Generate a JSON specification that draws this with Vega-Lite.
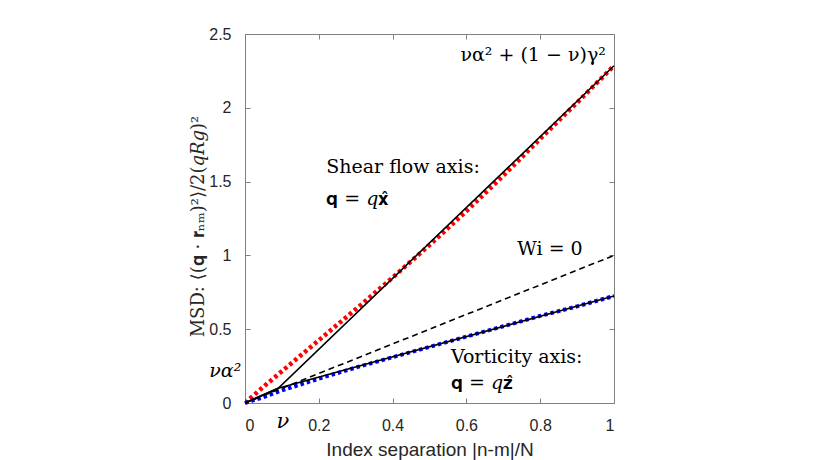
{
  "$schema": "https://vega.github.io/schema/vega-lite/v6.json",
  "autosize": "none",
  "width": 369,
  "height": 369,
  "padding": {"left": 245, "top": 34, "right": 216, "bottom": 57},
  "background": "white",
  "config": {
    "view": {"stroke": null},
    "axis": {"grid": false, "domainColor": "#808080", "tickColor": "#808080", "labelColor": "#262626", "labelFont": "Liberation Sans", "labelFontSize": 16, "titleFont": "Liberation Sans", "titleColor": "#262626", "titleFontWeight": "normal"}
  },
  "resolve": {"axis": {"x": "independent", "y": "independent"}},
  "datasets": {
    "curves": [
      {"x": 0, "y": 0, "series": "shear"},
      {"x": 0.05, "y": 0.11, "series": "shear"},
      {"x": 0.1, "y": 0.215, "series": "shear"},
      {"x": 0.15, "y": 0.32, "series": "shear"},
      {"x": 0.2, "y": 0.425, "series": "shear"},
      {"x": 0.3, "y": 0.635, "series": "shear"},
      {"x": 0.4, "y": 0.85, "series": "shear"},
      {"x": 0.5, "y": 1.07, "series": "shear"},
      {"x": 0.6, "y": 1.3, "series": "shear"},
      {"x": 0.7, "y": 1.54, "series": "shear"},
      {"x": 0.8, "y": 1.79, "series": "shear"},
      {"x": 0.9, "y": 2.035, "series": "shear"},
      {"x": 1, "y": 2.285, "series": "shear"},
      {"x": 0, "y": 0, "series": "vort"},
      {"x": 0.05, "y": 0.04, "series": "vort"},
      {"x": 0.1, "y": 0.085, "series": "vort"},
      {"x": 0.2, "y": 0.165, "series": "vort"},
      {"x": 0.3, "y": 0.24, "series": "vort"},
      {"x": 0.4, "y": 0.31, "series": "vort"},
      {"x": 0.5, "y": 0.38, "series": "vort"},
      {"x": 0.6, "y": 0.45, "series": "vort"},
      {"x": 0.7, "y": 0.52, "series": "vort"},
      {"x": 0.8, "y": 0.59, "series": "vort"},
      {"x": 0.9, "y": 0.655, "series": "vort"},
      {"x": 1, "y": 0.725, "series": "vort"},
      {"x": 0, "y": 0, "series": "wi0"},
      {"x": 1, "y": 1, "series": "wi0"},
      {"x": 0, "y": 0, "series": "upper"},
      {"x": 0.09, "y": 0.1, "series": "upper"},
      {"x": 1, "y": 2.285, "series": "upper"},
      {"x": 0, "y": 0, "series": "lower"},
      {"x": 0.09, "y": 0.1, "series": "lower"},
      {"x": 1, "y": 0.725, "series": "lower"}
    ]
  },
  "layer": [
    {
      "data": {"name": "curves"},
      "transform": [{"filter": "datum.series === 'shear'"}],
      "mark": {"type": "line", "color": "#ff0000", "strokeWidth": 4.5, "strokeDash": [3.5, 3], "clip": true},
      "encoding": {
        "x": {"field": "x", "type": "quantitative", "scale": {"domain": [0, 1], "nice": false},
          "axis": {"values": [0, 0.2, 0.4, 0.6, 0.8, 1], "format": "~g", "tickSize": -5, "labelPadding": 19, "title": "Index separation |n-m|/N", "titleFontSize": 19, "titlePadding": 7}},
        "y": {"field": "y", "type": "quantitative", "scale": {"domain": [0, 2.5], "nice": false},
          "axis": {"values": [0, 0.5, 1, 1.5, 2, 2.5], "format": "~g", "tickSize": -5, "labelPadding": 19, "title": "MSD: ⟨(𝐪 · 𝐫ₙₘ)²⟩/2(𝑞𝑅𝑔)²", "titleFont": "DejaVu Serif", "titleFontSize": 18, "titleX": -42, "titleY": 192, "titleBaseline": "alphabetic"}}
      }
    },
    {
      "data": {"name": "curves"},
      "transform": [{"filter": "datum.series === 'vort'"}],
      "mark": {"type": "line", "color": "#0000ff", "strokeWidth": 4, "strokeDash": [3.5, 3]},
      "encoding": {"x": {"field": "x", "type": "quantitative", "axis": null}, "y": {"field": "y", "type": "quantitative", "axis": null}}
    },
    {
      "data": {"name": "curves"},
      "transform": [{"filter": "datum.series === 'wi0'"}],
      "mark": {"type": "line", "color": "black", "strokeWidth": 1.6, "strokeDash": [6, 4]},
      "encoding": {"x": {"field": "x", "type": "quantitative", "axis": null}, "y": {"field": "y", "type": "quantitative", "axis": null}}
    },
    {
      "data": {"name": "curves"},
      "transform": [{"filter": "datum.series === 'upper' || datum.series === 'lower'"}],
      "mark": {"type": "line", "color": "black", "strokeWidth": 1.6},
      "encoding": {"x": {"field": "x", "type": "quantitative", "axis": null}, "y": {"field": "y", "type": "quantitative", "axis": null}, "detail": {"field": "series"}}
    },
    {
      "data": {"values": [{"x": 0, "y": 0}]},
      "mark": {"type": "point", "opacity": 0},
      "encoding": {
        "x": {"field": "x", "type": "quantitative", "axis": {"orient": "top", "values": [0, 0.2, 0.4, 0.6, 0.8, 1], "labels": false, "tickSize": -5, "title": null}},
        "y": {"field": "y", "type": "quantitative", "axis": {"orient": "right", "values": [0, 0.5, 1, 1.5, 2, 2.5], "labels": false, "tickSize": -5, "title": null}}
      }
    },
    {
      "data": {"values": [{"x": 0.978, "y": 2.36, "t": "να² + (1 − ν)γ²"}]},
      "mark": {"type": "text", "font": "DejaVu Serif", "fontSize": 19, "align": "right", "baseline": "middle", "color": "black"},
      "encoding": {"x": {"field": "x", "type": "quantitative", "axis": null}, "y": {"field": "y", "type": "quantitative", "axis": null}, "text": {"field": "t"}}
    },
    {
      "data": {"values": [{"x": 0.22, "y": 1.6, "t": "Shear flow axis:"}, {"x": 0.558, "y": 0.314, "t": "Vorticity axis:"}, {"x": 0.738, "y": 1.045, "t": "Wi = 0"}]},
      "mark": {"type": "text", "font": "DejaVu Serif", "fontSize": 19, "align": "left", "baseline": "middle", "color": "black"},
      "encoding": {"x": {"field": "x", "type": "quantitative", "axis": null}, "y": {"field": "y", "type": "quantitative", "axis": null}, "text": {"field": "t"}}
    },
    {
      "data": {"values": [{"x": 0.22, "y": 1.38, "t": "𝐪 = 𝑞𝐱̂"}, {"x": 0.558, "y": 0.138, "t": "𝐪 = 𝑞𝐳̂"}]},
      "mark": {"type": "text", "font": "DejaVu Serif", "fontSize": 19, "align": "left", "baseline": "middle", "color": "black"},
      "encoding": {"x": {"field": "x", "type": "quantitative", "axis": null}, "y": {"field": "y", "type": "quantitative", "axis": null}, "text": {"field": "t"}}
    },
    {
      "data": {"values": [{"x": -0.01, "y": 0.22, "t": "να²"}]},
      "mark": {"type": "text", "font": "DejaVu Serif", "fontSize": 19, "fontStyle": "italic", "align": "right", "baseline": "middle", "color": "black"},
      "encoding": {"x": {"field": "x", "type": "quantitative", "axis": null}, "y": {"field": "y", "type": "quantitative", "axis": null}, "text": {"field": "t"}}
    },
    {
      "data": {"values": [{"x": 0.103, "y": -0.13, "t": "ν"}]},
      "mark": {"type": "text", "font": "DejaVu Serif", "fontSize": 21, "fontStyle": "italic", "align": "center", "baseline": "middle", "color": "black"},
      "encoding": {"x": {"field": "x", "type": "quantitative", "axis": null}, "y": {"field": "y", "type": "quantitative", "axis": null}, "text": {"field": "t"}}
    }
  ]
}
